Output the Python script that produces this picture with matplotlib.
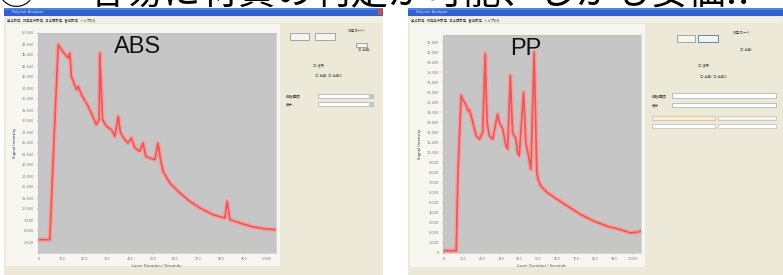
import matplotlib.pyplot as plt
from matplotlib.patches import Rectangle

# ABS curve
abs_x = [0, 47, 69, 84, 100, 128, 135, 142, 164, 172, 186, 216, 252, 264, 267, 279, 296, 318,
         333, 348, 358, 377, 391, 406, 421, 443, 457, 469, 487, 509, 523, 534, 545, 575, 619,
         663, 707, 765, 817, 827, 839, 883, 941, 1000, 1041]
abs_y = [3030, 3030, 30000, 47350, 46000, 44320, 45450, 40150, 37120, 37880, 35990, 33330,
         29170, 30300, 45450, 30300, 28790, 28030, 26520, 31060, 27270, 25760, 25000, 26140,
         23860, 23110, 25000, 21970, 21590, 21210, 25000, 21210, 18560, 15910, 13640, 11740,
         10230, 8710, 7950, 11740, 7580, 6820, 5910, 5450, 5300]

# PP curve (right window)
pp_x = [0, 12, 65, 74, 91, 100, 118, 126, 135, 153, 170, 188, 205, 218, 228, 240, 258, 275,
        284, 293, 302, 311, 328, 337, 351, 363, 372, 381, 389, 398, 421, 433, 447, 460, 477,
        491, 498, 512, 547, 600, 653, 723, 793, 863, 933, 986, 1021, 1039]
pp_y = [233, 233, 233, 8000, 15670, 15300, 14670, 14170, 14270, 13000, 11670, 11330, 12000,
        19830, 13000, 11670, 11330, 13000, 13830, 13000, 12670, 12330, 10670, 10330, 17670,
        12000, 11670, 11330, 10000, 9670, 16000, 11000, 9670, 8330, 20000, 8000, 7330, 6670,
        6000, 5330, 4670, 3830, 3170, 2670, 2330, 2000, 2070, 2170]

abs_yticks = list(range(2500, 50001, 2500))
pp_yticks = list(range(0, 21001, 1000))
xticks = list(range(0, 1001, 100))

JP = ['Noto Sans CJK JP', 'DejaVu Sans']

W, H = 783, 275
fig = plt.figure(figsize=(W / 100, H / 100), dpi=100)
fig.patch.set_facecolor('white')

# background canvas in pixel coords
bg = fig.add_axes([0, 0, 1, 1])
bg.set_xlim(0, W)
bg.set_ylim(H, 0)
bg.axis('off')


def box(x0, y0, x1, y1, fc, ec='none', lw=0.5):
    bg.add_patch(Rectangle((x0, y0), x1 - x0, y1 - y0, facecolor=fc, edgecolor=ec, linewidth=lw))


def window(x0, x1, name):
    box(x0, 8, x1, H, '#ece9d8')
    box(x0, 8, x1, 16, '#2f62cc')
    box(x0, 8, x1, 10, '#4f82e0')
    bg.text(x0 + 8, 12, name, fontsize=2.6, color='#dde6ff', va='center')
    box(x0 + 1, 17, x1 - 1, 23, '#f2f0e6')
    bg.text(x0 + 3, 20.5, '基本設定   測定条件設定   日本語設定   書込設定   ヘルプ(H)', fontsize=2.4,
            color='#333333', va='center', family=JP)


window(4, 383, 'Polymer Analyzer')
window(408, 783, 'Polymer Analyzer')
box(378, 9, 382, 15, '#d8502c')

# white plot panels
box(6, 24, 280, 266, '#f7f6f1')
box(410, 24, 645, 267, '#f7f6f1')

# right-hand controls (left window)
box(290, 33, 309, 40, '#f4f4f0', '#888888')
box(315, 33, 335, 40, '#f4f4f0', '#888888')
box(356, 43, 367, 47, '#f4f4f0', '#888888')
box(318, 94, 373, 98, 'white', '#aaaaaa')
box(318, 102, 373, 106, 'white', '#aaaaaa')
box(369, 94, 373, 98, '#b8c8e8')
box(369, 102, 373, 106, '#b8c8e8')
# right-hand controls (right window)
box(677, 35, 695, 42, '#f4f4f0', '#888888')
box(698, 35, 718, 42, '#f4f4f0', '#3355aa')
box(672, 93, 776, 98, 'white', '#aaaaaa')
box(672, 103, 776, 107, 'white', '#aaaaaa')
box(652, 116, 715, 120, '#fbeec8', '#bbbbbb')
box(718, 116, 776, 120, '#f4f4f0', '#bbbbbb')
box(652, 124, 715, 128, 'white', '#bbbbbb')
box(718, 124, 776, 128, 'white', '#bbbbbb')
for tx, ty, s in [(348, 31, '測定モード'), (358, 50, '○ 比較'), (313, 65, '○ 波形'), (315, 76, '○ 比較  ○ 比較2'),
                  (286, 96, '樹脂種類'), (286, 104, '表示'), (733, 33, '測定モード'), (740, 50, '○ 比較'),
                  (698, 65, '○ 波形'), (700, 77, '○ 比較  ○ 比較2'), (652, 96, '樹脂種類'), (652, 105, '表示')]:
    bg.text(tx, ty, s, fontsize=2.6, color='#444444', va='center', family=JP)


def plot_panel(rect, xs, ys, yticks, ylim, label):
    x0, y0, x1, y1 = rect
    ax = fig.add_axes([x0 / W, (H - y1) / H, (x1 - x0) / W, (y1 - y0) / H])
    ax.set_facecolor('#c6c6c6')
    ax.plot(xs, ys, color='#f4a0a0', lw=3.4, solid_joinstyle='round')
    ax.plot(xs, ys, color='#e85858', lw=1.2, solid_joinstyle='round')
    ax.set_xlim(-5, 1042)
    ax.set_ylim(ylim)
    ax.set_xticks(xticks)
    ax.set_xticklabels([f'{v:,}' for v in xticks])
    ax.set_yticks(yticks)
    ax.set_yticklabels([f'{v:,}' for v in yticks])
    ax.tick_params(labelsize=2.5, colors='#777777', length=1, width=0.3, pad=2)
    for sp in ax.spines.values():
        sp.set_color('#bbbbbb')
        sp.set_linewidth(0.4)
    ax.set_xlabel('Laser Duration / Seconds', fontsize=2.8, color='#555555', labelpad=2)
    ax.set_ylabel('Signal Intensity', fontsize=2.8, color='#333333', labelpad=3)
    ax.text(0.42, 0.935, label, transform=ax.transAxes, fontsize=17, ha='center', va='center',
            family='Liberation Sans', color='#111111')
    return ax


plot_panel((38, 33, 276, 253), abs_x, abs_y, abs_yticks, (0, 50000), 'ABS')
plot_panel((443, 35, 641, 253), pp_x, pp_y, pp_yticks, (0, 21700), 'PP')
box(600, 35, 640, 38, '#eeeeee', '#aaaaaa')

# headline, only its lower edge is inside the picture
fig.text(-0.004, 1 - 4 / H, '③', fontsize=28, va='baseline', family=JP, color='black')
fig.text(88 / W, 1 - 4 / H, '容易に材質の判定が可能、しかも安価!!', fontsize=27, va='baseline',
         family=JP, color='black')

fig.savefig('out.png', dpi=100, facecolor='white')
